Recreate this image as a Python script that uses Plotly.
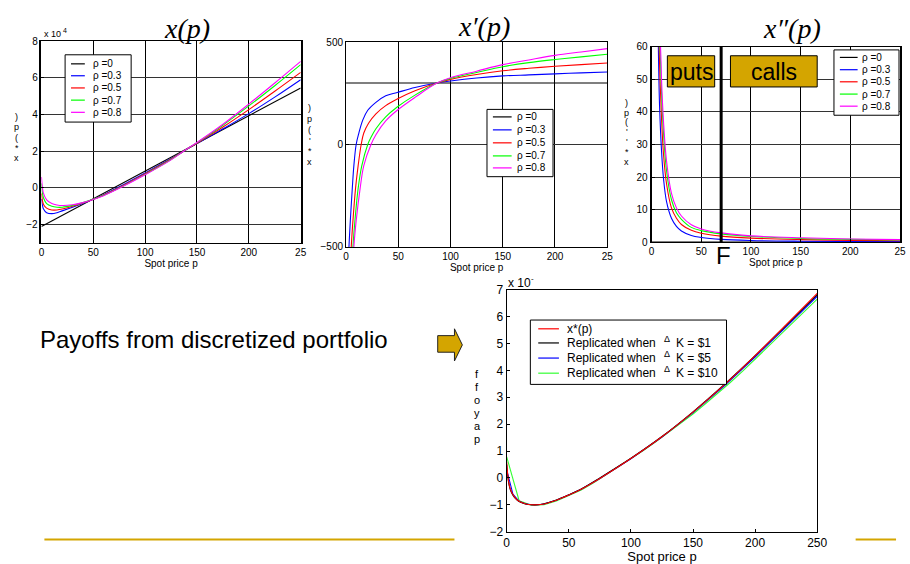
import plotly.graph_objects as go

W, H = 910, 564
FONT = "Liberation Sans, Arial, sans-serif"
SERIF = "Liberation Serif, Times New Roman, serif"
GOLD = "#D4A500"

# ---------------- data ----------------
rho_names = ["ρ =0", "ρ =0.3", "ρ =0.5", "ρ =0.7", "ρ =0.8"]
rho_colors = ["#000000", "#0000FF", "#FF0000", "#00FF00", "#FF00FF"]
price_ticks = [0, 50, 100, 150, 200, 250]
price_ticktext_clipped = ["0", "50", "100", "150", "200", "25"]
price_ticktext = ["0", "50", "100", "150", "200", "250"]

# x(p), in units of 1e4
x_rho0_p = [0, 250]
x_rho0_v = [-2.1, 5.45]
x_p = [0, 1, 2, 5, 10, 15, 20, 30, 40, 50, 60, 75, 100, 125, 137, 150, 175, 200, 225, 250]
x_rho03 = [-0.6, -0.95, -1.15, -1.35, -1.40, -1.35, -1.25, -1.05, -0.85, -0.62, -0.37, 0.06, 0.82, 1.6, 2.0, 2.42, 3.22, 4.05, 4.95, 5.9]
x_rho05 = [-0.3, -0.7, -0.9, -1.1, -1.2, -1.2, -1.15, -1.0, -0.82, -0.62, -0.38, 0.03, 0.78, 1.58, 2.0, 2.44, 3.32, 4.27, 5.27, 6.3]
x_rho07 = [0.25, -0.3, -0.55, -0.85, -1.0, -1.05, -1.05, -0.95, -0.8, -0.62, -0.4, 0.0, 0.74, 1.55, 2.0, 2.46, 3.42, 4.47, 5.57, 6.72]
x_rho08 = [0.6, 0.0, -0.3, -0.65, -0.85, -0.93, -0.96, -0.92, -0.8, -0.63, -0.42, -0.02, 0.72, 1.53, 2.0, 2.48, 3.47, 4.57, 5.72, 6.9]

# x'(p)
d1_rho0_p = [0, 250]
d1_rho0_v = [300, 300]
d1_rho03_p = [2, 2.8, 4.1, 6, 7.5, 9.7, 12.3, 16, 20.8, 28.6, 38, 49, 66, 87, 100, 125, 150, 175, 200, 225, 250]
d1_rho03_v = [-620, -500, -373, -214, -103, 0, 56, 119, 167, 206, 238, 254, 278, 300, 310, 325, 335, 340, 345, 350, 354]
d1_rho05_p = [4, 5, 6.6, 9.1, 11.6, 14.5, 17, 21.7, 28.6, 38, 49, 66, 87, 100, 125, 150, 175, 200, 225, 250]
d1_rho05_v = [-620, -500, -373, -214, -103, 0, 56, 105, 150, 190, 222, 262, 300, 318, 342, 360, 372, 382, 390, 398]
d1_rho07_p = [5.5, 6.6, 8.5, 11.6, 15.1, 20.8, 23.9, 28.6, 38, 49, 66, 87, 100, 125, 150, 175, 200, 225, 250]
d1_rho07_v = [-620, -500, -373, -214, -103, 0, 35, 77, 135, 183, 241, 300, 323, 352, 380, 400, 415, 428, 441]
d1_rho08_p = [6.5, 7.5, 9.7, 13.5, 17, 23.9, 28.6, 38, 49, 66, 87, 100, 125, 150, 175, 200, 225, 250]
d1_rho08_v = [-620, -500, -373, -214, -103, 0, 48, 115, 167, 230, 300, 326, 358, 390, 413, 435, 452, 468]

# x''(p)
d2_rho0_p = [0, 250]
d2_rho0_v = [0, 0]
d2_p = [5, 6, 7, 8, 10, 12, 15, 20, 25, 30, 40, 50, 70, 100, 150, 200, 250]
d2_rho03 = [108, 76, 56, 42, 28, 19.5, 12.5, 7.3, 4.8, 3.4, 2.0, 1.4, 0.8, 0.45, 0.25, 0.17, 0.12]
d2_rho05 = [140, 98, 72, 55, 38, 27, 18, 10.5, 7.3, 5.4, 3.6, 2.7, 1.8, 1.2, 0.75, 0.5, 0.4]
d2_rho07 = [170, 118, 87, 66, 46, 33.5, 22, 13, 9, 7, 4.5, 3.5, 2.5, 1.7, 1.1, 0.8, 0.6]
d2_rho08 = [185, 128, 94, 72, 50, 37, 25, 15, 10.5, 8, 5.3, 4.0, 2.8, 1.9, 1.3, 0.95, 0.75]
F_level = 70

# payoff of discretized portfolio (units of 1e4)
pay_names = ["x*(p)", "Replicated when", "Replicated when", "Replicated when"]
pay_steps = ["", "K = $1", "K = $5", "K = $10"]
pay_colors = ["#FF0000", "#000000", "#0000FF", "#33FF33"]
pay_p = [0, 1, 2, 3, 5, 7, 10, 15, 20, 25, 30, 40, 50, 60, 75, 100, 125, 150, 175, 200, 225, 250]
pay_xstar = [0.6, 0.05, -0.25, -0.42, -0.62, -0.75, -0.87, -0.96, -1.0, -1.0, -0.97, -0.83, -0.64, -0.42, -0.02, 0.72, 1.53, 2.45, 3.45, 4.55, 5.7, 6.87]
pay_k1 = [0.5, 0.0, -0.28, -0.45, -0.64, -0.76, -0.88, -0.97, -1.0, -1.0, -0.96, -0.82, -0.63, -0.41, 0.0, 0.73, 1.54, 2.46, 3.47, 4.55, 5.68, 6.82]
pay_k5_p = [0, 5, 10, 15, 20, 25, 30, 40, 50, 60, 75, 100, 125, 150, 175, 200, 225, 250]
pay_k5 = [0.3, -0.6, -0.87, -0.96, -1.0, -1.0, -0.97, -0.83, -0.64, -0.42, -0.02, 0.71, 1.52, 2.43, 3.42, 4.5, 5.62, 6.76]
pay_k10_p = [0, 10, 20, 30, 40, 50, 60, 70, 80, 90, 100, 110, 120, 130, 140, 150, 160, 170, 180, 190, 200, 210, 220, 230, 240, 250]
pay_k10 = [0.78, -0.85, -1.02, -1.0, -0.86, -0.67, -0.45, -0.18, 0.12, 0.42, 0.7, 1.02, 1.34, 1.68, 2.02, 2.38, 2.76, 3.15, 3.55, 3.97, 4.42, 4.86, 5.3, 5.75, 6.2, 6.65]

# ---------------- helpers ----------------
def px(x):
    return x / W


def py(y):
    return 1 - y / H


def dom_x(a, b):
    return [a / W, min(b / W, 1.0)]


def dom_y(top, bottom):
    return [1 - bottom / H, 1 - top / H]


fig = go.Figure()


def line(xs, ys, color, ax, shape="spline", width=1.1):
    fig.add_trace(go.Scatter(x=xs, y=ys, mode="lines", showlegend=False,
                             line=dict(color=color, width=width, shape=shape, smoothing=1.0),
                             xaxis="x" + ax, yaxis="y" + ax, hoverinfo="skip"))


# plot 1
line(x_rho0_p, x_rho0_v, rho_colors[0], "", "linear")
for v, c in zip([x_rho03, x_rho05, x_rho07, x_rho08], rho_colors[1:]):
    line(x_p, v, c, "")
# plot 2
line(d1_rho0_p, d1_rho0_v, rho_colors[0], "2", "linear")
for p, v, c in zip([d1_rho03_p, d1_rho05_p, d1_rho07_p, d1_rho08_p],
                   [d1_rho03_v, d1_rho05_v, d1_rho07_v, d1_rho08_v], rho_colors[1:]):
    line(p, v, c, "2")
# plot 3
line(d2_rho0_p, d2_rho0_v, rho_colors[0], "3", "linear")
for v, c in zip([d2_rho03, d2_rho05, d2_rho07, d2_rho08], rho_colors[1:]):
    line(d2_p, v, c, "3")
# plot 4
line(pay_k10_p, pay_k10, pay_colors[3], "4", "linear")
line(pay_k5_p, pay_k5, pay_colors[2], "4", "linear")
line(pay_p, pay_k1, pay_colors[1], "4")
line(pay_p, pay_xstar, pay_colors[0], "4")

shapes = []
annotations = []


def text(x, y, s, size, xanchor="center", yanchor="middle", family=FONT, color="black"):
    annotations.append(dict(x=px(x), y=py(y), xref="paper", yref="paper", text=s,
                            showarrow=False, xanchor=xanchor, yanchor=yanchor,
                            font=dict(size=size, family=family, color=color)))


def stacked(x, ytop, chars, size, step):
    for i, ch in enumerate(chars):
        text(x, ytop + i * step, ch, size)


def legend_box(box):
    x0, y0, x1, y1 = box
    shapes.append(dict(type="rect", xref="paper", yref="paper", x0=px(x0), x1=px(x1),
                       y0=py(y1), y1=py(y0), fillcolor="white", line=dict(color="black", width=1)))


def legend(box, ys, lx0, lx1, tx, names, colors, size):
    legend_box(box)
    for yy, n, c in zip(ys, names, colors):
        shapes.append(dict(type="line", xref="paper", yref="paper", x0=px(lx0), x1=px(lx1),
                           y0=py(yy), y1=py(yy), line=dict(color=c, width=1.2)))
        text(tx, yy, n, size, xanchor="left")


legend((63, 49, 130, 118), [58.3, 70.5, 83, 95.5, 108], 69, 83, 89, rho_names, rho_colors, 10)
legend((491, 105, 558, 174), [112.7, 126, 139.3, 152.7, 165], 497, 516, 519, rho_names, rho_colors, 10)
legend((843, 44, 909, 111), [51.7, 64.3, 76.7, 89.3, 101.7], 849, 867, 869, rho_names, rho_colors, 10)
pay_ys = [330, 344.5, 360, 375.5]
legend((535, 321, 734, 387), pay_ys, 543, 564, 570, pay_names, pay_colors, 12)
for yy, step in zip(pay_ys[1:], pay_steps[1:]):
    text(669, yy - 4, "Δ", 9, xanchor="left")
    text(681, yy, step, 12, xanchor="left")

# titles
text(187, 22, "<i>x(p)</i>", 28, family=SERIF)
text(488, 20, "<i>x′(p)</i>", 28, family=SERIF)
text(800, 22, "<i>x″(p)</i>", 28, family=SERIF)
# exponent labels
text(40, 28, "x 10", 9, xanchor="left")
text(59, 24, "4", 7, xanchor="left")
text(510, 283, "x 10", 12, xanchor="left")
text(534, 278, "-", 8, xanchor="left")
# stacked y labels
stacked(14, 113, [")", "p", "(", "*", "x"], 9, 10.5)
stacked(311, 104, [")", "p", "(", "'", "*", "x"], 9, 11)
stacked(633, 98, [")", "p", "(", "'", "'", "*", "x"], 9, 10.2)
stacked(481, 376, ["f", "f", "o", "y", "a", "p"], 11, 13.4)

# puts / calls boxes and strike marker
for (a, b, lab) in [(674, 722, "puts"), (738, 826, "calls")]:
    shapes.append(dict(type="rect", xref="paper", yref="paper", x0=px(a), x1=px(b),
                       y0=py(82), y1=py(50), fillcolor=GOLD, line=dict(color="black", width=1)))
    text((a + b) / 2, 66.5, lab, 23)
shapes.append(dict(type="line", xref="x3", yref="y3", x0=F_level, x1=F_level, y0=0, y1=60,
                   line=dict(color="black", width=3)))
text(731, 255, "F", 24)

# main text + arrow + decorative lines
text(35, 341, "Payoffs from discretized portfolio", 24, xanchor="left")
arrow = [(441, 337), (458, 337), (458, 330), (466, 346.5), (458, 363), (458, 354), (441, 354)]
path = "M " + " L ".join(f"{px(a):.5f},{py(b):.5f}" for a, b in arrow) + " Z"
shapes.append(dict(type="path", xref="paper", yref="paper", path=path, fillcolor=GOLD,
                   line=dict(color="#222222", width=1)))
for a, b in [(42, 458), (865, 906)]:
    shapes.append(dict(type="line", xref="paper", yref="paper", x0=px(a), x1=px(b),
                       y0=py(546), y1=py(546), line=dict(color=GOLD, width=2)))


def xaxis(domain, anchor, ticktext, grid, size, tsize, standoff):
    return dict(domain=domain, anchor=anchor, range=[0, 250], tickvals=price_ticks, ticktext=ticktext,
                showline=True, mirror=True, linecolor="black", linewidth=1,
                ticks="inside", ticklen=3, tickcolor="black",
                showgrid=grid, gridcolor="black", gridwidth=1, zeroline=False,
                tickfont=dict(size=size, family=FONT, color="black"),
                title=dict(text="Spot price p", font=dict(size=tsize, family=FONT, color="black"),
                           standoff=standoff))


def yaxis(domain, anchor, rng, tickvals, grid, size, lw=1):
    return dict(domain=domain, anchor=anchor, range=rng, tickvals=tickvals,
                showline=True, mirror=True, linecolor="black", linewidth=lw,
                ticks="inside", ticklen=3, tickcolor="black",
                showgrid=grid, gridcolor="#333333", gridwidth=1, zeroline=False,
                tickfont=dict(size=size, family=FONT, color="black"))


fig.update_layout(
    width=W, height=H, autosize=False,
    margin=dict(l=0, r=0, t=0, b=0),
    paper_bgcolor="white", plot_bgcolor="white",
    showlegend=False,
    xaxis=xaxis(dom_x(39, 302), "y", price_ticktext_clipped, True, 10, 10, 0),
    yaxis=yaxis(dom_y(35, 242), "x", [-3, 8], [-2, 0, 2, 4, 6, 8], True, 10, 1.5),
    xaxis2=xaxis(dom_x(348, 613), "y2", price_ticktext_clipped, True, 10, 10, 2),
    yaxis2=yaxis(dom_y(36, 246), "x2", [-500, 500], [-500, 0, 500], True, 10),
    xaxis3=xaxis(dom_x(658, 910), "y3", price_ticktext_clipped, True, 10, 10, 0),
    yaxis3=yaxis(dom_y(41, 241), "x3", [0, 60], [0, 10, 20, 30, 40, 50, 60], True, 10, 2),
    xaxis4=xaxis(dom_x(511, 826), "y4", price_ticktext, False, 12, 13, 0),
    yaxis4=yaxis(dom_y(290, 538), "x4", [-2, 7], [-2, -1, 0, 1, 2, 3, 4, 5, 6, 7], False, 12),
    shapes=shapes,
    annotations=annotations,
)

fig.write_html("out.html")
